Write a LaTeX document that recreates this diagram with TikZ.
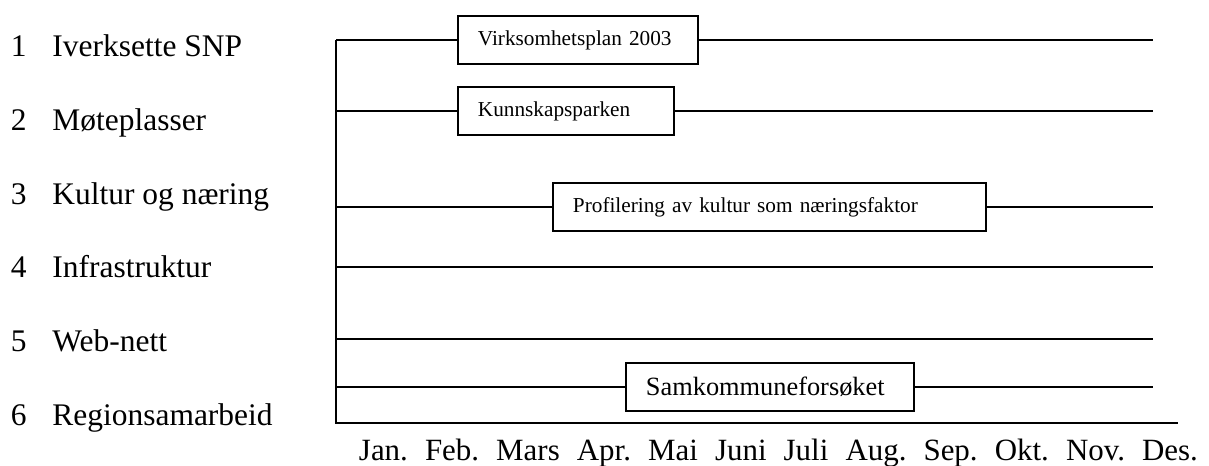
\documentclass[tikz,border=0pt]{standalone}
\usepackage{fontspec}
\setmainfont{Liberation Serif}
\begin{document}
\begin{tikzpicture}[line width=1.1pt,
  task/.style={draw, anchor=west, text width=#1, align=left,
    minimum height=0.96cm, inner xsep=0.40cm, inner ysep=0pt,
    font=\fontsize{12.1}{14}\selectfont},
  row/.style={anchor=base west, inner sep=0pt,
    font=\fontsize{17.9}{20}\selectfont}]
\useasboundingbox (0, 0) rectangle (24.18, 9.32);

\foreach \n/\name in {1/Iverksette SNP, 2/Møteplasser, 3/Kultur og næring,
    4/Infrastruktur, 5/Web-nett, 6/Regionsamarbeid} {
  \node[row] (num\n) at (0.20, {8.18 - (\n-1)*1.472}) {\n};
  \node[row] (lab\n) at (1.03, {8.18 - (\n-1)*1.472}) {\name};
}

\coordinate (s1) at (6.72, 8.52);
\coordinate (s2) at (6.72, 7.10);
\coordinate (s3) at (6.72, 5.18);
\coordinate (s4) at (6.72, 3.98);
\coordinate (s5) at (6.72, 2.54);
\coordinate (s6) at (6.72, 1.58);
\coordinate (e1) at (23.06, 8.52);
\coordinate (e2) at (23.06, 7.10);
\coordinate (e3) at (23.06, 5.18);
\coordinate (e4) at (23.06, 3.98);
\coordinate (e5) at (23.06, 2.54);
\coordinate (e6) at (23.06, 1.58);
\coordinate (corner) at (6.72, 0.86);
\coordinate (axisend) at (23.56, 0.86);

\node[task=4.00cm] (plan) at (9.14, 8.52) {Virksomhetsplan 2003};
\node[task=3.52cm] (park) at (9.14, 7.10) {Kunnskapsparken};
\node[task=7.86cm] (kultur) at (11.04, 5.18) {Profilering av kultur som næringsfaktor};
\node[task=4.96cm, font=\fontsize{15}{17}\selectfont] (samk) at (12.50, 1.58) {Samkommuneforsøket};

\draw (s1) -- (corner) -- (axisend);
\draw (s1) -- (plan);
\draw (plan) -- (e1);
\draw (s2) -- (park);
\draw (park) -- (e2);
\draw (s3) -- (kultur);
\draw (kultur) -- (e3);
\draw (s4) -- (e4);
\draw (s5) -- (e5);
\draw (s6) -- (samk);
\draw (samk) -- (e6);

\node[row, font=\fontsize{17.6}{20}\selectfont] (months) at (7.16, 0.10)
  {\makebox[16.78cm]{Jan.\hfill Feb.\hfill Mars\hfill Apr.\hfill Mai\hfill Juni\hfill
   Juli\hfill Aug.\hfill Sep.\hfill Okt.\hfill Nov.\hfill Des.}};
\end{tikzpicture}
\end{document}
